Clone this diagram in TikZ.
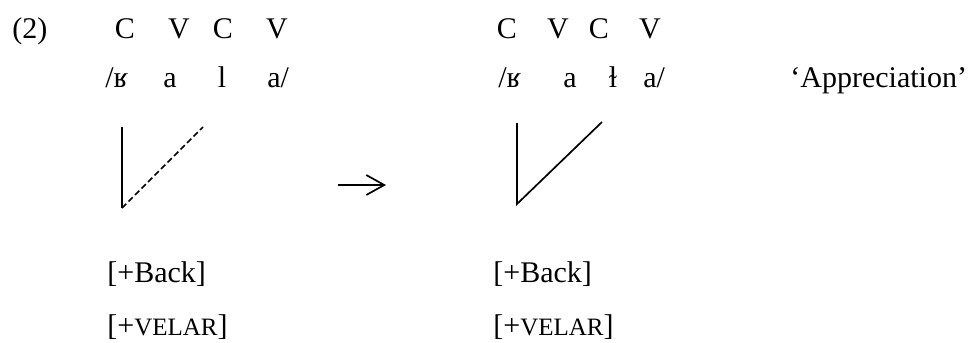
\documentclass[tikz,border=0pt]{standalone}
\usepackage{fontspec}
\setmainfont{Liberation Serif}
\usetikzlibrary{arrows.meta}

\newcommand{\featsc}[1]{{\fontsize{12.5}{14}\selectfont #1}}

\begin{document}
\begin{tikzpicture}[
    x=0.5pt, y=-0.5pt,
    seg/.style={anchor=base, inner sep=0pt, font=\fontsize{15}{18}\selectfont},
    lseg/.style={seg, anchor=base west},
    assoc/.style={line width=0.85pt},
    delinked/.style={assoc, dash pattern=on 3pt off 1.6pt}
]
\useasboundingbox (0,0) rectangle (976,343);

% example number
\node[lseg] (num) at (12,38) {(2)};

% input form
\node[seg] (c1) at (125,38) {C};
\node[seg] (v1) at (179,38) {V};
\node[seg] (c2) at (223,38) {C};
\node[seg] (v2) at (277,38) {V};
\node[lseg] (s1) at (105,87) {/ʁ};
\node[seg] (s2) at (170,87) {a};
\node[seg] (s3) at (222,87) {l};
\node[lseg] (s4) at (267,87) {a/};

% output form
\node[seg] (oc1) at (507,38) {C};
\node[seg] (ov1) at (558,38) {V};
\node[seg] (oc2) at (599,38) {C};
\node[seg] (ov2) at (650,38) {V};
\node[lseg] (os1) at (498,87) {/ʁ};
\node[seg] (os2) at (570,87) {a};
\node[seg] (os3) at (613,87) {ɫ};
\node[lseg] (os4) at (643,87) {a/};
\node[lseg] (gloss) at (790,87) {‘Appreciation’};

% association lines
\coordinate (ltop) at (122,127);
\coordinate (lroot) at (122,208);
\coordinate (ldash) at (203,127);
\draw[assoc] (ltop) -- (lroot);
\draw[delinked] (lroot) -- (ldash);

\coordinate (rtop) at (517,123);
\coordinate (rroot) at (517,204);
\coordinate (rlink) at (602,122);
\draw[assoc] (rtop) -- (rroot) -- (rlink);

% rule arrow
\coordinate (afrom) at (338,185);
\coordinate (ato) at (386,185);
\draw[assoc, -{Straight Barb[length=9pt, width=10pt, line width=0.85pt]}] (afrom) -- (ato);

% features
\node[lseg] (fb1) at (107,282) {[+Back]};
\node[lseg] (fv1) at (107,335) {[+\featsc{VELAR}]};
\node[lseg] (fb2) at (493,282) {[+Back]};
\node[lseg] (fv2) at (493,335) {[+\featsc{VELAR}]};

\end{tikzpicture}
\end{document}
